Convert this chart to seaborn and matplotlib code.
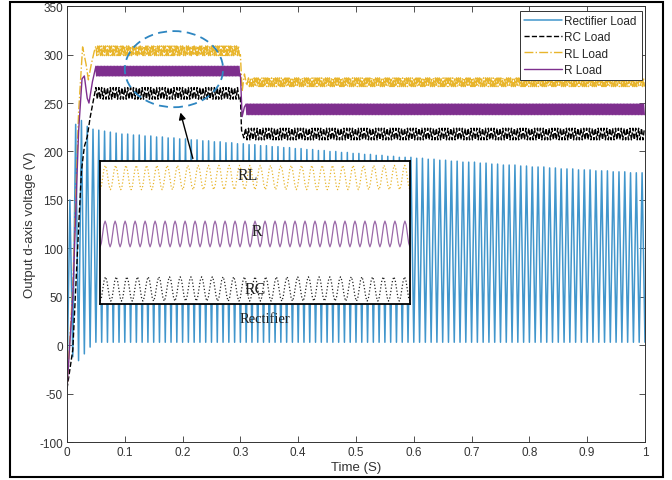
import numpy as np
import pandas as pd
import matplotlib
matplotlib.use("Agg")
import matplotlib.pyplot as plt
from matplotlib.patches import Ellipse, Rectangle
import seaborn as sns

# rectifier load: one peak per 10 ms cycle
rect_peaks = [150, 228, 232, 226, 223, 222, 221, 220, 219, 218,
              218, 217, 217, 216, 216, 215, 215, 214, 214, 213,
              213, 212, 212, 211, 211, 210, 210, 209, 209, 208,
              208, 207, 207, 206, 206, 205, 205, 204, 204, 203,
              203, 202, 202, 201, 201, 200, 200, 199, 199, 198,
              198, 197, 197, 196, 196, 195, 195, 194, 194, 194,
              193, 193, 192, 192, 191, 191, 190, 190, 189, 189,
              189, 188, 188, 187, 187, 186, 186, 186, 185, 185,
              184, 184, 184, 183, 183, 182, 182, 182, 181, 181,
              181, 180, 180, 180, 179, 179, 179, 178, 178, 178]
rect_troughs_start = [-45, -12, -16, -9, -2]
rect_trough_level = 3

# start-up transients
rc_start_t = [0, 0.01, 0.02, 0.025, 0.03, 0.035, 0.04, 0.046]
rc_start_v = [-45, -5, 120, 180, 205, 215, 235, 254]
rl_start_t = [0, 0.01, 0.02, 0.027, 0.033, 0.037, 0.042, 0.047]
rl_start_v = [-45, 60, 240, 308, 290, 274, 290, 303]
r_start_t = [0, 0.01, 0.02, 0.026, 0.03, 0.035, 0.038, 0.044]
r_start_v = [-45, 50, 220, 275, 278, 255, 250, 272]

# ripple bands (low, high) before / after the load step at 0.3 s
rc_band = [(254, 266), (212, 224)]
rl_band = [(299, 309), (267, 276)]
r_band = [(278, 288), (238, 249)]

# step at 0.3 s
rc_step_t = [0.300, 0.302, 0.306]
rc_step_v = [256, 222, 214]
rl_step_t = [0.300, 0.303, 0.307, 0.311]
rl_step_v = [300, 262, 280, 268]
r_step_t = [0.300, 0.303, 0.307]
r_step_v = [280, 236, 246]

ripple_hz = {"RC": 200, "RL": 300, "R": 400}

# inset: one cycle shape and cycles per wave
cycle_shape = [0.0, 0.146, 0.5, 0.854, 1.0, 0.854, 0.5, 0.146]
inset_cycles = {"RL": 30, "R": 31, "RC": 29}
inset_range = {"RL": (0.80, 0.97), "R": (0.40, 0.58), "RC": (0.02, 0.19)}

C_RECT = "#4196cc"
C_RC = "black"
C_RL = "#E8B52C"
C_R = "#7E2F8E"


def ripple(t0, t1, lo, hi, hz):
    tt = np.arange(t0, t1, 0.5 / hz)
    vv = np.where(np.arange(len(tt)) % 2 == 0, hi, lo)
    return tt, vv


def build(start_t, start_v, band, step_t, step_v, hz):
    t1, v1 = ripple(0.05, 0.3, band[0][0], band[0][1], hz)
    t2, v2 = ripple(step_t[-1] + 0.003, 1.0, band[1][0], band[1][1], hz)
    t = np.concatenate([start_t, t1, step_t, t2])
    v = np.concatenate([start_v, v1, step_v, v2])
    return pd.DataFrame({"t": t, "v": v})


troughs = rect_troughs_start + [rect_trough_level] * (101 - len(rect_troughs_start))
rect_v = np.empty(201)
rect_v[0::2] = troughs
rect_v[1::2] = rect_peaks
rect = pd.DataFrame({"t": np.arange(201) * 0.005, "v": rect_v})

rc = build(rc_start_t, rc_start_v, rc_band, rc_step_t, rc_step_v, ripple_hz["RC"])
rl = build(rl_start_t, rl_start_v, rl_band, rl_step_t, rl_step_v, ripple_hz["RL"])
r = build(r_start_t, r_start_v, r_band, r_step_t, r_step_v, ripple_hz["R"])

sns.set_theme(style="ticks")
plt.rcParams["font.family"] = ["Liberation Sans", "DejaVu Sans"]
plt.rcParams["axes.unicode_minus"] = False

fig = plt.figure(figsize=(6.72, 4.81), dpi=100)
ax = fig.add_axes([0.0997, 0.079, 0.8601, 0.906])

kw = dict(x="t", y="v", ax=ax, estimator=None, sort=False)
sns.lineplot(data=rect, color=C_RECT, lw=1.1, label="Rectifier Load", **kw)
sns.lineplot(data=rc, color=C_RC, lw=1.0, linestyle="--", label="RC Load", **kw)
sns.lineplot(data=rl, color=C_RL, lw=1.0, linestyle="-.", label="RL Load", **kw)
sns.lineplot(data=r, color=C_R, lw=1.0, label="R Load", **kw)

ax.set_xlim(0, 1)
ax.set_ylim(-100, 350)
ax.set_xticks(np.arange(0, 1.01, 0.1))
ax.set_xticklabels(["0", "0.1", "0.2", "0.3", "0.4", "0.5", "0.6", "0.7", "0.8", "0.9", "1"])
ax.set_yticks(np.arange(-100, 351, 50))
ax.tick_params(direction="in", top=True, right=True, labelsize=8.5, length=4,
               width=0.6, color="#333333", labelcolor="#333333", pad=3)
for s in ax.spines.values():
    s.set_linewidth(0.7)
    s.set_color("#333333")
ax.set_xlabel("Time (S)", fontsize=9.5, color="#333333", labelpad=2)
ax.set_ylabel("Output d-axis voltage (V)", fontsize=9.5, color="#333333", labelpad=2)

leg = ax.legend(loc="upper right", bbox_to_anchor=(0.994, 0.99), borderaxespad=0,
                fontsize=8.5, frameon=True, fancybox=False, framealpha=1,
                edgecolor="#333333", handlelength=3.2, handletextpad=0.2,
                labelspacing=0.35, borderpad=0.4)
leg.get_frame().set_linewidth(0.7)

ax.add_patch(Ellipse((0.185, 285), 0.17, 78.6, fill=False, edgecolor="#2e86c1",
                     lw=1.3, linestyle=(0, (5, 3)), zorder=5))
ax.annotate("", xy=(0.195, 243), xytext=(0.219, 190),
            arrowprops=dict(arrowstyle="-|>", color="black", lw=1, mutation_scale=10))
ax.text(0.343, 28, "Rectifier", family="Liberation Serif", fontsize=10.5,
        ha="center", va="center", color="#222222")

# zoomed inset
axin = fig.add_axes([0.149, 0.366, 0.461, 0.297])
axin.set_facecolor("white")
inset_style = {"RL": (C_RL, ":"), "R": ("#9a68a8", "-"), "RC": ("#222222", ":")}
for name in ["RL", "R", "RC"]:
    n = inset_cycles[name]
    lo, hi = inset_range[name]
    xs = np.linspace(0, 1, n * len(cycle_shape) + 1)
    ys = lo + (hi - lo) * np.array(cycle_shape * n + [cycle_shape[0]])
    col, ls = inset_style[name]
    sns.lineplot(x=xs, y=ys, ax=axin, color=col, linestyle=ls, lw=0.9,
                 estimator=None, sort=False)
axin.set_xlim(0, 1)
axin.set_ylim(0, 1)
axin.set_xticks([])
axin.set_yticks([])
axin.set_xlabel("")
axin.set_ylabel("")
for s in axin.spines.values():
    s.set_linewidth(1.3)
    s.set_color("black")
for name, (x, y) in {"RL": (0.477, 0.90), "R": (0.506, 0.51), "RC": (0.50, 0.105)}.items():
    axin.text(x, y, name, family="Liberation Serif", fontsize=11.5,
              ha="center", va="center", color="#222222")

fig.patches.append(Rectangle((0.0149, 0.006), 0.9717, 0.988, transform=fig.transFigure,
                             fill=False, edgecolor="black", lw=1.5))

fig.savefig("out.png", dpi=100)
